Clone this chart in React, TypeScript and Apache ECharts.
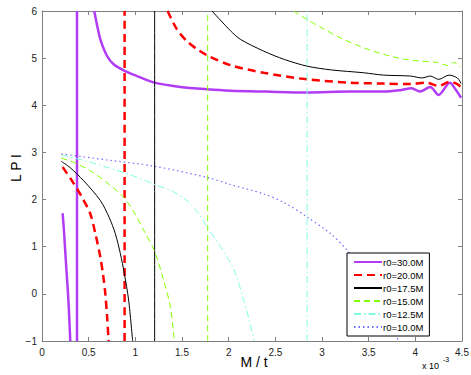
import React, { useEffect, useRef } from "react";
import * as echarts from "echarts";

const names = ["r0=30.0M", "r0=20.0M", "r0=17.5M", "r0=15.0M", "r0=12.5M", "r0=10.0M"];
const colors = ["#b23cf5", "#ff0000", "#000000", "#80ff00", "#80ffe0", "#6f6fff"];

// x in units of 1e-3 (M/t), y = LPI
const lower30 = [[0.221, 1.71], [0.235, 1.35], [0.246, 1.0], [0.262, 0.5], [0.279, 0.0], [0.292, -0.5], [0.303, -1]];
const asym30 = [[0.375, -1], [0.375, 6]];
const upper30 = [[0.56, 6], [0.59, 5.7], [0.625, 5.4], [0.696, 5.05], [0.767, 4.87], [0.885, 4.73], [1.018, 4.62], [1.203, 4.48], [1.482, 4.39], [1.768, 4.34], [2.02, 4.31], [2.4, 4.29], [2.84, 4.27], [3.3, 4.29], [3.66, 4.29], [3.84, 4.32], [3.96, 4.36], [4.05, 4.29], [4.16, 4.39], [4.25, 4.22], [4.37, 4.48], [4.43, 4.34], [4.49, 4.16]];

const lower20 = [[0.221, 2.69], [0.321, 2.4], [0.42, 2.08], [0.517, 1.7], [0.575, 1.25], [0.625, 0.78], [0.655, 0.4], [0.678, 0.01], [0.698, -0.5], [0.714, -1]];
const asym20 = [[0.885, -1], [0.885, 6]];
const upper20 = [[1.346, 6], [1.446, 5.61], [1.553, 5.36], [1.661, 5.19], [1.779, 5.05], [2.02, 4.85], [2.374, 4.69], [2.84, 4.55], [3.3, 4.48], [3.66, 4.46], [3.95, 4.45], [4.12, 4.48], [4.25, 4.41], [4.37, 4.5], [4.45, 4.45], [4.49, 4.38]];

const lower175 = [[0.207, 2.81], [0.3, 2.68], [0.446, 2.4], [0.625, 1.98], [0.72, 1.62], [0.785, 1.28], [0.84, 0.85], [0.882, 0.43], [0.928, -0.13], [0.971, -1]];
const asym175 = [[1.207, -1], [1.207, 6]];
const upper175 = [[1.821, 6], [2.02, 5.58], [2.125, 5.4], [2.374, 5.15], [2.6, 4.97], [2.84, 4.83], [3.1, 4.75], [3.446, 4.69], [3.66, 4.64], [3.95, 4.62], [4.07, 4.58], [4.16, 4.62], [4.25, 4.55], [4.36, 4.64], [4.45, 4.58], [4.49, 4.46]];

const lower15 = [[0.207, 2.88], [0.375, 2.76], [0.55, 2.57], [0.732, 2.3], [0.874, 2.05], [0.98, 1.75], [1.089, 1.35], [1.203, 0.92], [1.303, 0.29], [1.375, -0.27], [1.418, -1]];
const asym15 = [[1.775, -1], [1.775, 6]];
const upper15 = [[2.696, 6], [2.84, 5.82], [3.0, 5.64], [3.196, 5.43], [3.446, 5.22], [3.66, 5.08], [3.875, 4.98], [4.05, 4.94], [4.23, 4.91], [4.36, 4.84], [4.41, 4.91], [4.49, 4.81]];

const lower125 = [[0.207, 2.95], [0.5, 2.8], [0.91, 2.55], [1.232, 2.3], [1.4, 2.17], [1.553, 1.98], [1.68, 1.7], [1.768, 1.42], [1.88, 1.1], [1.982, 0.78], [2.07, 0.45], [2.16, -0.13], [2.22, -0.55], [2.275, -1]];
const asym125 = [[2.84, -1], [2.84, 6]];

const lower10 = [[0.207, 2.97], [0.7, 2.84], [1.196, 2.71], [1.768, 2.47], [2.02, 2.32], [2.374, 2.12], [2.6, 1.93], [2.84, 1.63], [3.09, 1.28], [3.27, 0.92], [3.4, 0.55], [3.52, 0.08], [3.69, -0.49], [3.82, -1]];

const styles: any[] = [
  { width: 2.5, type: "solid" },
  { width: 2.5, type: [8, 5] },
  { width: 1, type: "solid" },
  { width: 1, type: [6, 4] },
  { width: 1, type: [7, 3, 1.5, 3] },
  { width: 1.2, type: [1.5, 3] },
];

const groups: number[][][][] = [
  [lower30, asym30, upper30],
  [lower20, asym20, upper20],
  [lower175, asym175, upper175],
  [lower15, asym15, upper15],
  [lower125, asym125],
  [lower10],
];

export default function App() {
  const ref = useRef<HTMLDivElement>(null);
  useEffect(() => {
    const chart = echarts.init(ref.current!, null, { renderer: "svg" });
    const series: any[] = [];
    groups.forEach((segs, i) => {
      segs.forEach((seg) => {
        series.push({
          name: names[i],
          type: "line",
          data: seg,
          symbol: "none",
          showSymbol: false,
          smooth: 0.3,
          color: colors[i],
          lineStyle: { color: colors[i], width: styles[i].width, type: styles[i].type },
          xAxisIndex: 0,
          yAxisIndex: 0,
          silent: true,
        });
      });
    });
    const axisCommon = {
      axisLine: { show: true, onZero: false, lineStyle: { color: "#808080", width: 1 } },
      axisTick: { show: true, inside: true, length: 4, lineStyle: { color: "#808080" } },
      splitLine: { show: false },
    };
    chart.setOption({
      animation: false,
      backgroundColor: "#ffffff",
      grid: { left: 42, right: 9, top: 11, bottom: 34, containLabel: false, outerBoundsMode: "none" },
      xAxis: [
        {
          type: "value", min: 0, max: 4.5, interval: 0.5, position: "bottom",
          ...axisCommon,
          axisLabel: { color: "#222", fontSize: 10, fontFamily: "Liberation Sans, Arial", margin: 6 },
        },
        {
          type: "value", min: 0, max: 4.5, interval: 0.5, position: "top",
          ...axisCommon, axisLabel: { show: false },
        },
      ],
      yAxis: [
        {
          type: "value", min: -1, max: 6, interval: 1, position: "left",
          ...axisCommon,
          axisLabel: { color: "#222", fontSize: 10, fontFamily: "Liberation Sans, Arial", margin: 5,
            formatter: (v: number) => (v < 0 ? "\u2212" + Math.abs(v) : String(v)) },
        },
        {
          type: "value", min: -1, max: 6, interval: 1, position: "right",
          ...axisCommon, axisLabel: { show: false },
        },
      ],
      legend: {
        data: names,
        orient: "vertical",
        left: 347,
        top: 253,
        itemWidth: 28,
        itemHeight: 10,
        itemGap: 3,
        padding: [4, 6, 4, 6],
        backgroundColor: "#ffffff",
        borderColor: "#000000",
        borderWidth: 1,
        borderRadius: 0,
        selectedMode: false,
        itemStyle: { opacity: 0, borderWidth: 0 },
        textStyle: { fontSize: 9.5, color: "#000", fontFamily: "Liberation Sans, Arial", padding: [0, 0, 0, -4], lineHeight: 10 },
      },
      graphic: [
        {
          type: "text", x: 16, y: 168, rotation: Math.PI / 2,
          style: { text: "L P I", fontSize: 14, fill: "#000", fontFamily: "Liberation Sans, Arial", align: "center", verticalAlign: "middle" },
        },
        {
          type: "text", x: 254, y: 362,
          style: { text: "M / t", fontSize: 14, fill: "#000", fontFamily: "Liberation Sans, Arial", align: "center", verticalAlign: "middle" },
        },
        {
          type: "text", left: 422, top: 361,
          style: { text: "x 10", fontSize: 9, fill: "#000", fontFamily: "Liberation Sans, Arial" },
        },
        {
          type: "text", left: 443, top: 356,
          style: { text: "-3", fontSize: 7, fill: "#000", fontFamily: "Liberation Sans, Arial" },
        },
      ],
      series,
    });
    return () => chart.dispose();
  }, []);
  return <div ref={ref} style={{ width: 471, height: 375, position: "absolute", left: 0, top: 0 }} />;
}
